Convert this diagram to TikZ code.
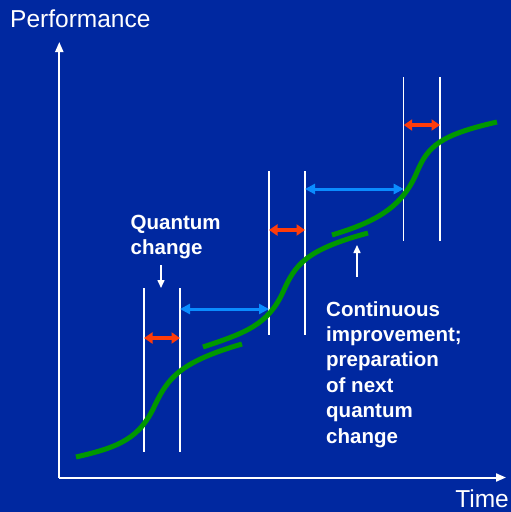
\documentclass[tikz,border=0pt]{standalone}
\usepackage{fontspec}
\setmainfont{Liberation Sans}
\usetikzlibrary{arrows.meta}
\definecolor{bg}{RGB}{0,40,160}
\definecolor{crv}{RGB}{0,152,0}
\definecolor{redgap}{RGB}{255,60,10}
\definecolor{bluspan}{RGB}{10,140,255}
\begin{document}
\begin{tikzpicture}[x=1pt,y=-1pt,
  axisline/.style={draw=white, line width=2pt, -{Triangle[length=10pt,width=8pt]}},
  guide/.style={draw=white, line width=1.4pt},
  gaparrow/.style={draw=redgap, line width=3.5pt, {Triangle[length=8.5pt,width=11pt]}-{Triangle[length=8.5pt,width=11pt]}},
  spanarrow/.style={draw=bluspan, line width=3pt, {Triangle[length=10pt,width=10pt]}-{Triangle[length=10pt,width=10pt]}},
  perfcurve/.style={draw=crv, line width=5pt, line cap=butt},
  pointer/.style={draw=white, line width=1.5pt, -{Triangle[length=8pt,width=7pt]}},
  lbl/.style={text=white, font=\bfseries\fontsize{20.5}{25.4}\selectfont, align=left, inner sep=0pt},
  axlbl/.style={text=white, font=\fontsize{24.5}{28}\selectfont, inner sep=0pt}]
\fill[bg] (0,0) rectangle (511,512);
\useasboundingbox (0,0) rectangle (511,512);

% axes
\coordinate (O) at (59.3,477.5);
\coordinate (ytop) at (59.3,42);
\coordinate (xend) at (506,477.5);
\draw[axisline] (O) -- (ytop);
\draw[axisline] (O) -- (xend);
\node[axlbl, anchor=base west] (perf) at (10,27.5) {Performance};
\node[axlbl, anchor=base east] (time) at (509,507) {Time};

% guide lines
\coordinate (a1t) at (144,288); \coordinate (a1b) at (144,452);
\coordinate (b1t) at (180,288); \coordinate (b1b) at (180,452);
\coordinate (a2t) at (269,171); \coordinate (a2b) at (269,335);
\coordinate (b2t) at (305,171); \coordinate (b2b) at (305,335);
\coordinate (a3t) at (403.7,77); \coordinate (a3b) at (403.7,241);
\coordinate (b3t) at (440,77); \coordinate (b3b) at (440,241);
\foreach \p in {a1,b1,a2,b2,a3,b3} \draw[guide] (\p t) -- (\p b);

% curves
\draw[perfcurve] (76,457) .. controls (120,447) and (140,438) .. (155,405)
  .. controls (168,378) and (180,362) .. (242,344);
\draw[perfcurve] (203,347) .. controls (245,333) and (268,325) .. (283,292)
  .. controls (295,265) and (305,250) .. (368,233);
\draw[perfcurve] (332,235) .. controls (375,222) and (402,208) .. (417,172)
  .. controls (428,146) and (440,135) .. (497,122);

% red gap arrows
\coordinate (r1a) at (144,338); \coordinate (r1b) at (180,338);
\coordinate (r2a) at (269,230); \coordinate (r2b) at (305,230);
\coordinate (r3a) at (403.7,125); \coordinate (r3b) at (440,125);
\draw[gaparrow] (r1a) -- (r1b);
\draw[gaparrow] (r2a) -- (r2b);
\draw[gaparrow] (r3a) -- (r3b);

% blue span arrows
\coordinate (s1a) at (180,309); \coordinate (s1b) at (269,309);
\coordinate (s2a) at (305,189); \coordinate (s2b) at (403.7,189);
\draw[spanarrow] (s1a) -- (s1b);
\draw[spanarrow] (s2a) -- (s2b);

% labels
\node[lbl, anchor=north west] (qc) at (130.5,214.5) {Quantum\\change};
\coordinate (qcp1) at (161,265); \coordinate (qcp2) at (161,288);
\draw[pointer] (qcp1) -- (qcp2);

\node[lbl, anchor=north west] (ci) at (326,301) {Continuous\\improvement;\\preparation\\of next\\quantum\\change};
\coordinate (cip1) at (357,277); \coordinate (cip2) at (357,245);
\draw[pointer] (cip1) -- (cip2);
\end{tikzpicture}
\end{document}
